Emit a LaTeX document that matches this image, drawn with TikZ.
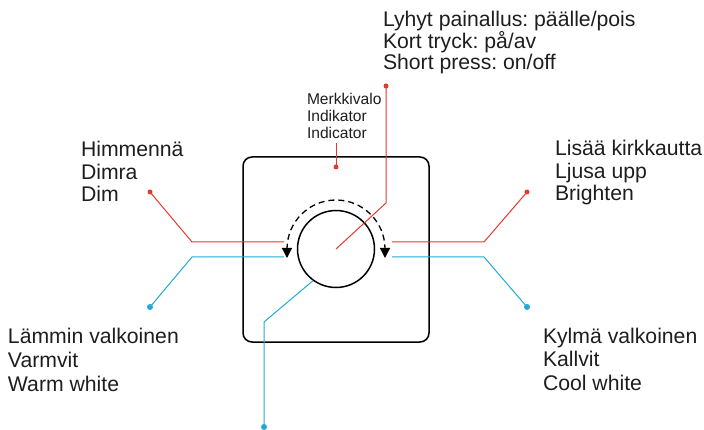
\documentclass[tikz,border=0pt]{standalone}
\usepackage{fontspec}
\setmainfont{Liberation Sans}
\usetikzlibrary{arrows.meta}
\definecolor{leadred}{RGB}{229,57,45}
\definecolor{leadblue}{RGB}{32,170,220}
\definecolor{txt}{RGB}{30,30,30}
\frenchspacing
\begin{document}
\begin{tikzpicture}[x=1pt,y=-1pt,
  label/.style={inner sep=0pt, outer sep=0pt, align=left, anchor=base west, text=txt,
     font=\fontsize{21.2}{22.5}\selectfont},
  smalllabel/.style={inner sep=0pt, outer sep=0pt, align=left, anchor=base west, text=txt,
     font=\fontsize{15.6}{17}\selectfont},
  redlead/.style={draw=leadred, line width=1pt},
  bluelead/.style={draw=leadblue, line width=1pt},
  reddot/.style={fill=leadred},
  bluedot/.style={fill=leadblue},
  rotarrow/.style={line width=1.3pt, dash pattern=on 6pt off 4pt, >={Triangle[width=10pt,length=10pt]}, <->}]
\useasboundingbox (0,0) rectangle (704,430);

% panel and knob
\node[draw, line width=1.5pt, rounded corners=9pt, minimum width=186pt, minimum height=185pt, inner sep=0pt] (panel) at (336,249.5) {};
\node[draw, circle, line width=1.5pt, minimum size=77pt, inner sep=0pt] (knob) at (336,249) {};

% dashed rotation arrow
\draw[rotarrow] (knob.center) ++(-49,9) -- ++(0,-9) arc[start angle=180, end angle=360, radius=49] -- ++(0,9);

% texts (anchored at the baseline of the last line)
\node[label, font=\fontsize{21.2}{21.5}\selectfont] (press) at (383,70) {Lyhyt painallus: päälle/pois\\Kort tryck: på/av\\Short press: on/off};
\node[smalllabel] (ind) at (307,139) {Merkkivalo\\Indikator\\Indicator};
\node[label] (dim) at (81,202) {Himmennä\\Dimra\\Dim};
\node[label] (bright) at (555,201) {Lisää kirkkautta\\Ljusa upp\\Brighten};
\node[label, font=\fontsize{21.2}{24}\selectfont] (warm) at (8,391) {Lämmin valkoinen\\Varmvit\\Warm white};
\node[label, font=\fontsize{21.2}{23.5}\selectfont] (cool) at (543,390) {Kylmä valkoinen\\Kallvit\\Cool white};

% leader coordinates
\coordinate (pressdot) at (386,86);
\coordinate (presskink) at (386,203);
\coordinate (inddot) at (336,167);
\coordinate (indtop) at (336,143);
\coordinate (dimdot) at (150,192);
\coordinate (dimkink) at (192,242);
\coordinate (dimend) at (284,242);
\coordinate (warmdot) at (150,307);
\coordinate (warmkink) at (192,257);
\coordinate (warmend) at (284,257);
\coordinate (brightdot) at (527,192);
\coordinate (brightkink) at (484,242);
\coordinate (brightend) at (392,242);
\coordinate (cooldot) at (527,307);
\coordinate (coolkink) at (484,257);
\coordinate (coolend) at (392,257);
\coordinate (botdot) at (264,427);
\coordinate (botkink) at (264,322);

% leaders
\draw[redlead] (pressdot) -- (presskink) -- (knob.center);
\draw[redlead] (inddot) -- (indtop);
\draw[redlead] (dimdot) -- (dimkink) -- (dimend);
\draw[redlead] (brightdot) -- (brightkink) -- (brightend);
\draw[bluelead] (warmdot) -- (warmkink) -- (warmend);
\draw[bluelead] (cooldot) -- (coolkink) -- (coolend);
\draw[bluelead] (botdot) -- (botkink) -- (knob.234);

% dots
\fill[reddot] (pressdot) circle (2.5);
\fill[reddot] (inddot) circle (2.5);
\fill[reddot] (dimdot) circle (2.5);
\fill[reddot] (brightdot) circle (2.5);
\fill[bluedot] (warmdot) circle (3);
\fill[bluedot] (cooldot) circle (3);
\fill[bluedot] (botdot) circle (3);
\end{tikzpicture}
\end{document}
